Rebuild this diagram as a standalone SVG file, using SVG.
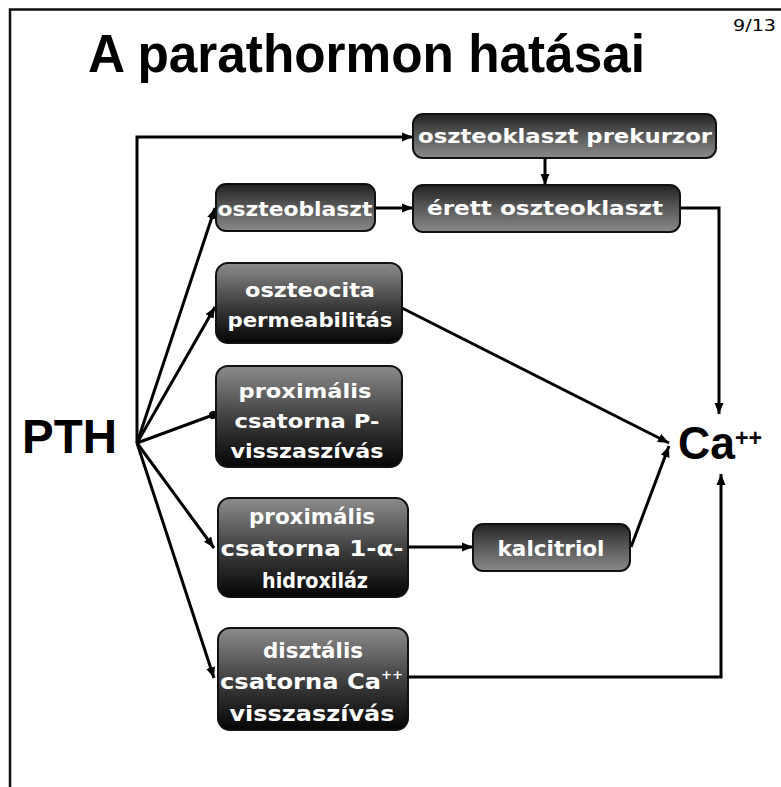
<svg xmlns="http://www.w3.org/2000/svg" width="781" height="787" viewBox="0 0 781 787">
<style>
.frame{fill:none;stroke:#111;stroke-width:2.5}
.box{stroke:#111;stroke-width:2}
.bt{font-family:"DejaVu Sans","Liberation Sans",sans-serif;font-weight:bold;font-size:20px;fill:#fff;text-anchor:middle}
.big{font-family:"Liberation Sans","DejaVu Sans",sans-serif;font-weight:bold;fill:#000}
.con{fill:none;stroke:#000;stroke-width:3}
</style>
<defs>
<linearGradient id="gDown" x1="0" y1="0" x2="0" y2="1">
<stop offset="0" stop-color="#8c8c8c"/>
<stop offset="0.55" stop-color="#3a3a3a"/>
<stop offset="1" stop-color="#050505"/>
</linearGradient>
<linearGradient id="gUp" x1="0" y1="0" x2="0" y2="1">
<stop offset="0" stop-color="#222"/>
<stop offset="0.45" stop-color="#555"/>
<stop offset="1" stop-color="#8a8a8a"/>
</linearGradient>
<marker id="arr" markerUnits="userSpaceOnUse" markerWidth="12" markerHeight="10" refX="11" refY="5" orient="auto">
<path d="M0,0.5 L11,5 L0,9.5 z" fill="#000"/>
</marker>
<marker id="dot" markerUnits="userSpaceOnUse" markerWidth="10" markerHeight="10" refX="5" refY="5" orient="auto">
<circle cx="5" cy="5" r="4" fill="#000"/>
</marker>
</defs>
<rect width="781" height="787" fill="#fff"/>
<path class="frame" d="M10,787 V9.5 H781"/>
<text x="88" y="72" class="big" font-size="54" textLength="557" lengthAdjust="spacingAndGlyphs">A parathormon hatásai</text>
<text x="733" y="31" font-family="DejaVu Sans, sans-serif" font-size="15" textLength="43" lengthAdjust="spacingAndGlyphs" fill="#000">9/13</text>

<g id="connectors">
<path class="con" d="M137,443 V137 H413" marker-end="url(#arr)"/>
<path class="con" d="M137,443 L215,208" marker-end="url(#arr)"/>
<path class="con" d="M137,443 L215,307" marker-end="url(#arr)"/>
<path class="con" d="M137,443 L213,415" marker-end="url(#dot)"/>
<path class="con" d="M137,443 L214,548" marker-end="url(#arr)"/>
<path class="con" d="M137,443 L214,678" marker-end="url(#arr)"/>
<path class="con" d="M375,208 H413" marker-end="url(#arr)"/>
<path class="con" d="M545,158 V185" marker-end="url(#arr)"/>
<path class="con" d="M680,208 H719 V414" marker-end="url(#arr)"/>
<path class="con" d="M402,308 L669,443" marker-end="url(#arr)"/>
<path class="con" d="M631,547 L669,446" marker-end="url(#arr)"/>
<path class="con" d="M408,547 H473" marker-end="url(#arr)"/>
<path class="con" d="M408,677 H721 V474" marker-end="url(#arr)"/>
</g>

<g id="PTH"><text x="22" y="453" class="big" font-size="48" textLength="95" lengthAdjust="spacingAndGlyphs">PTH</text></g>
<g id="Ca">
<text x="678" y="459" class="big" font-size="46" textLength="84" lengthAdjust="spacingAndGlyphs">Ca<tspan dy="-13" font-size="24">++</tspan></text>
</g>

<g id="prekurzor">
<rect class="box" x="413" y="114" width="303" height="44" rx="10" fill="url(#gUp)"/>
<text class="bt" x="565" y="143" textLength="294" lengthAdjust="spacingAndGlyphs">oszteoklaszt prekurzor</text>
</g>
<g id="erett">
<rect class="box" x="413" y="185" width="267" height="47" rx="10" fill="url(#gUp)"/>
<text class="bt" x="545" y="215" textLength="236" lengthAdjust="spacingAndGlyphs">érett oszteoklaszt</text>
</g>
<g id="oszteoblaszt">
<rect class="box" x="216" y="184" width="159" height="47" rx="10" fill="url(#gUp)"/>
<text class="bt" x="295" y="216" textLength="155" lengthAdjust="spacingAndGlyphs">oszteoblaszt</text>
</g>
<g id="oszteocita">
<rect class="box" x="216" y="263" width="186" height="80" rx="12" fill="url(#gDown)"/>
<text class="bt" x="310" y="297" textLength="130" lengthAdjust="spacingAndGlyphs">oszteocita</text>
<text class="bt" x="310" y="327" textLength="165" lengthAdjust="spacingAndGlyphs">permeabilitás</text>
</g>
<g id="proxP">
<rect class="box" x="216" y="366" width="186" height="101" rx="12" fill="url(#gDown)"/>
<text class="bt" x="305" y="398" textLength="133" lengthAdjust="spacingAndGlyphs">proximális</text>
<text class="bt" x="307" y="428" textLength="145" lengthAdjust="spacingAndGlyphs">csatorna P-</text>
<text class="bt" x="307" y="458" textLength="153" lengthAdjust="spacingAndGlyphs">visszaszívás</text>
</g>
<g id="proxA">
<rect class="box" x="218" y="498" width="190" height="99" rx="12" fill="url(#gDown)"/>
<text class="bt" x="312" y="524" style="font-size:22px" textLength="126" lengthAdjust="spacingAndGlyphs">proximális</text>
<text class="bt" x="312" y="556" style="font-size:22px" textLength="183" lengthAdjust="spacingAndGlyphs">csatorna 1-α-</text>
<text class="bt" x="315" y="588" style="font-size:22px" textLength="106" lengthAdjust="spacingAndGlyphs">hidroxiláz</text>
</g>
<g id="disztalis">
<rect class="box" x="218" y="628" width="190" height="102" rx="12" fill="url(#gDown)"/>
<text class="bt" x="313" y="658" style="font-size:22px" textLength="100" lengthAdjust="spacingAndGlyphs">disztális</text>
<text class="bt" x="220" y="689" style="text-anchor:start;font-size:22px" textLength="183" lengthAdjust="spacingAndGlyphs">csatorna Ca<tspan dy="-10" style="font-size:12px">++</tspan></text>
<text class="bt" x="312" y="721" style="font-size:22px" textLength="165" lengthAdjust="spacingAndGlyphs">visszaszívás</text>
</g>
<g id="kalcitriol">
<rect class="box" x="473" y="524" width="157" height="47" rx="10" fill="url(#gUp)"/>
<text class="bt" x="551" y="556" style="font-size:22px" textLength="107" lengthAdjust="spacingAndGlyphs">kalcitriol</text>
</g>
</svg>
